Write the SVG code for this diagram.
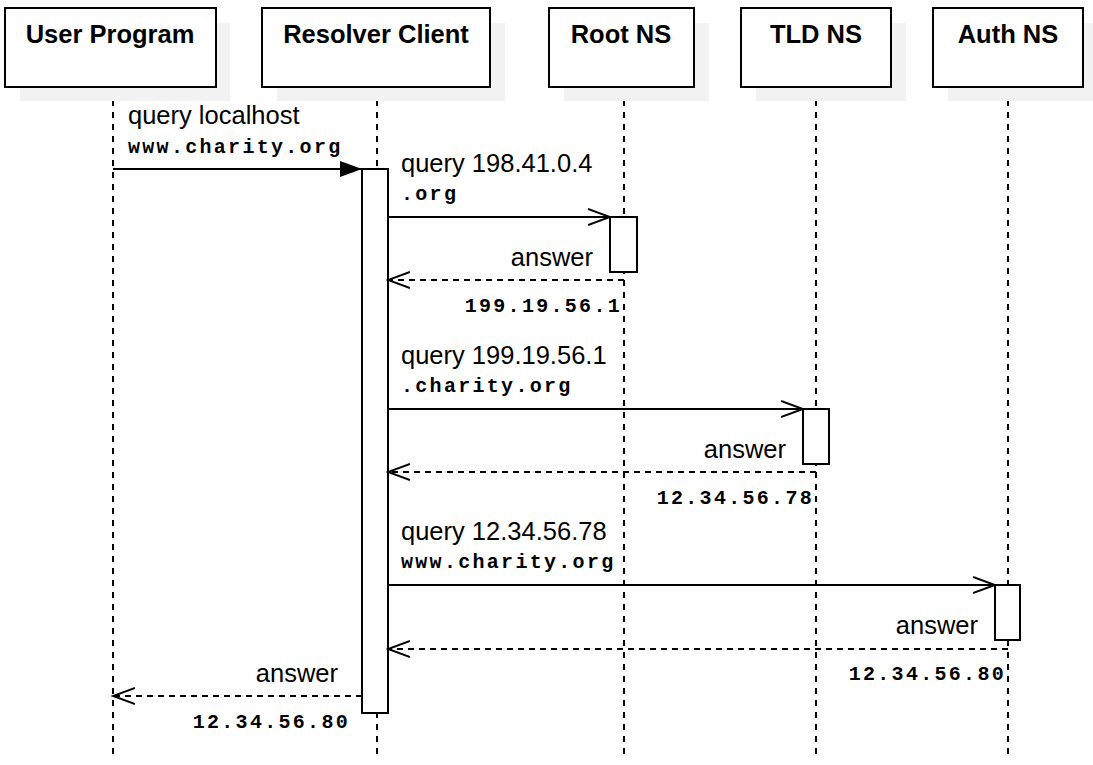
<svg xmlns="http://www.w3.org/2000/svg" width="1093" height="765" viewBox="0 0 1093 765">
<style>
.box{fill:#fff;stroke:#000;stroke-width:2}
.sh{fill:#f2f2f2}
.hd{font:bold 25.5px "Liberation Sans",Arial,sans-serif;text-anchor:middle}
.life{stroke:#000;stroke-width:2;stroke-dasharray:6,6}
.act{fill:#fff;stroke:#000;stroke-width:2}
.msg{stroke:#000;stroke-width:2;fill:none}
.ret{stroke:#000;stroke-width:2;fill:none;stroke-dasharray:6,5}
.t{font:25.5px "Liberation Sans",Arial,sans-serif}
.m{font:bold 20px "Liberation Mono","Courier New",monospace;letter-spacing:2.3px}
.r{text-anchor:end}
</style>
<defs>
<marker id="fill" markerWidth="24" markerHeight="16" refX="22" refY="8" orient="auto" markerUnits="userSpaceOnUse"><path d="M0,0 L22,8 L0,16 Z" fill="#000"/></marker>
<marker id="open" markerWidth="24" markerHeight="18" refX="22" refY="9" orient="auto" markerUnits="userSpaceOnUse"><path d="M0,1 L22,9 L0,17" fill="none" stroke="#000" stroke-width="2"/></marker>
</defs>
<g id="lifelines">
<line class="life" x1="113" y1="88" x2="113" y2="755"/>
<line class="life" x1="377" y1="88" x2="377" y2="755"/>
<line class="life" x1="624" y1="88" x2="624" y2="755"/>
<line class="life" x1="816" y1="88" x2="816" y2="755"/>
<line class="life" x1="1008" y1="88" x2="1008" y2="755"/>
</g>
<g id="user"><rect class="sh" x="20" y="23" width="210" height="78"/><rect class="box" x="5" y="8" width="211" height="79"/><text class="hd" x="110" y="43">User Program</text></g>
<g id="resolver"><rect class="sh" x="277" y="23" width="228" height="78"/><rect class="box" x="262" y="8" width="228" height="79"/><text class="hd" x="376" y="43">Resolver Client</text></g>
<g id="root"><rect class="sh" x="564" y="23" width="145" height="78"/><rect class="box" x="549" y="8" width="145" height="79"/><text class="hd" x="621" y="43">Root NS</text></g>
<g id="tld"><rect class="sh" x="756" y="23" width="150" height="78"/><rect class="box" x="741" y="8" width="150" height="79"/><text class="hd" x="816" y="43">TLD NS</text></g>
<g id="auth"><rect class="sh" x="948" y="23" width="145" height="78"/><rect class="box" x="933" y="8" width="150" height="79"/><text class="hd" x="1008" y="43">Auth NS</text></g>
<g id="activations">
<rect class="act" x="362" y="169" width="26" height="544"/>
<rect class="act" x="610" y="217" width="27" height="55"/>
<rect class="act" x="803" y="409" width="26" height="55"/>
<rect class="act" x="995" y="585" width="25" height="55"/>
</g>
<g id="connectors">
<line class="msg" x1="113" y1="169" x2="362" y2="169" marker-end="url(#fill)"/>
<line class="msg" x1="388" y1="217" x2="610" y2="217" marker-end="url(#open)"/>
<line class="ret" x1="624" y1="280" x2="388" y2="280" marker-end="url(#open)"/>
<line class="msg" x1="388" y1="409" x2="803" y2="409" marker-end="url(#open)"/>
<line class="ret" x1="816" y1="472" x2="388" y2="472" marker-end="url(#open)"/>
<line class="msg" x1="388" y1="585" x2="995" y2="585" marker-end="url(#open)"/>
<line class="ret" x1="1008" y1="649" x2="388" y2="649" marker-end="url(#open)"/>
<line class="ret" x1="362" y1="696" x2="113" y2="696" marker-end="url(#open)"/>
</g>
<g id="labels">
<text class="t" x="128" y="124">query localhost</text><text class="m" x="128" y="153">www.charity.org</text>
<text class="t" x="401" y="172">query 198.41.0.4</text><text class="m" x="401" y="200">.org</text>
<text class="t r" x="593" y="266">answer</text><text class="m r" x="622" y="312">199.19.56.1</text>
<text class="t" x="401" y="364">query 199.19.56.1</text><text class="m" x="401" y="392">.charity.org</text>
<text class="t r" x="786" y="458">answer</text><text class="m r" x="814" y="504">12.34.56.78</text>
<text class="t" x="401" y="540">query 12.34.56.78</text><text class="m" x="401" y="568">www.charity.org</text>
<text class="t r" x="978" y="634">answer</text><text class="m r" x="1006" y="680">12.34.56.80</text>
<text class="t r" x="338" y="682">answer</text><text class="m r" x="350" y="728">12.34.56.80</text>
</g>
</svg>
